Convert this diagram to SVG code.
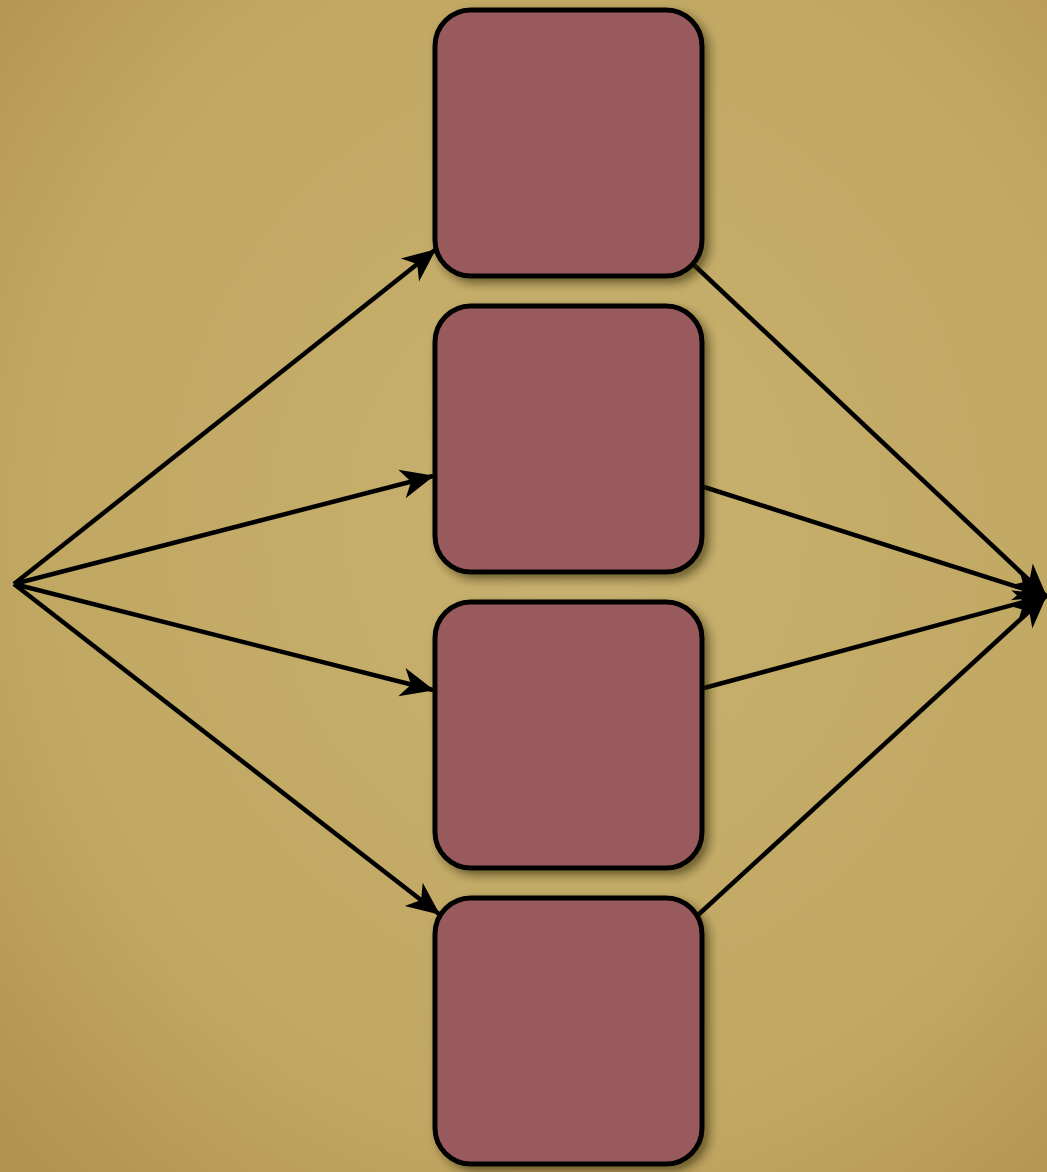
<svg xmlns="http://www.w3.org/2000/svg" width="1047" height="1172" viewBox="0 0 1047 1172">
<style>
.node{fill:#985a5c;stroke:#000;stroke-width:5;filter:url(#sh)}
.edge{stroke:#000;stroke-width:4.5;fill:none;marker-end:url(#ah)}
</style>
<defs>
<radialGradient id="bg" cx="0.55" cy="0.45" r="0.75">
<stop offset="0" stop-color="#c8b26f"/>
<stop offset="0.7" stop-color="#c0a762"/>
<stop offset="1" stop-color="#b39350"/>
</radialGradient>
<filter id="sh" x="-20%" y="-20%" width="140%" height="140%">
<feDropShadow dx="5" dy="5" stdDeviation="5" flood-color="#2a1a00" flood-opacity="0.55"/>
</filter>
<marker id="ah" markerUnits="userSpaceOnUse" markerWidth="40" markerHeight="40" viewBox="-28 -14 30 28" refX="0" refY="0" orient="auto">
<path d="M1,0 L-24,-11 L-17,0 L-24,11 Z" fill="#000"/>
</marker>
</defs>
<rect width="1047" height="1172" fill="url(#bg)"/>
<g id="connectors">
<line class="edge" x1="14" y1="584" x2="435" y2="250"/>
<line class="edge" x1="14" y1="584" x2="433" y2="476"/>
<line class="edge" x1="14" y1="584" x2="433" y2="690"/>
<line class="edge" x1="14" y1="584" x2="439" y2="914"/>
<line class="edge" x1="694" y1="265" x2="1046" y2="596"/>
<line class="edge" x1="704" y1="487" x2="1046" y2="596"/>
<line class="edge" x1="704" y1="688" x2="1046" y2="596"/>
<line class="edge" x1="698" y1="915" x2="1046" y2="596"/>
</g>
<g id="node1"><rect class="node" x="435" y="10" width="267" height="266" rx="36"/></g>
<g id="node2"><rect class="node" x="435" y="306" width="267" height="266" rx="36"/></g>
<g id="node3"><rect class="node" x="435" y="602" width="267" height="266" rx="36"/></g>
<g id="node4"><rect class="node" x="435" y="898" width="267" height="266" rx="36"/></g>
</svg>
